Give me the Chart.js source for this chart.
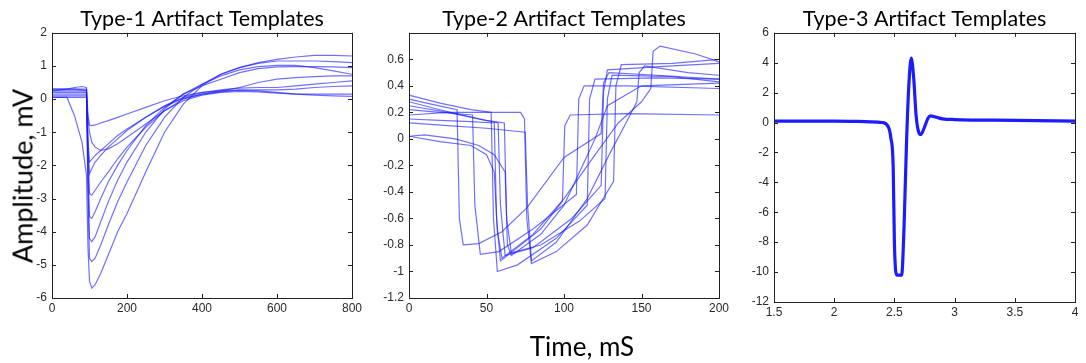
<!DOCTYPE html>
<html>
<head>
<meta charset="utf-8">
<script src="https://cdn.jsdelivr.net/npm/chart.js@4.4.0/dist/chart.umd.min.js"></script>
<style>
    body { margin: 0; background: #fff; width: 1086px; height: 363px; position: relative; overflow: hidden; font-family: Lato, "Open Sans", sans-serif; }
    .panel { position: absolute; top: 0; height: 330px; }
    #ampLabel { position: absolute; left: 22px; top: 176px; transform: translate(-50%, -50%) rotate(-90deg); font-size: 27px; white-space: nowrap; color: #000; }
    #timeLabel { position: absolute; left: 582px; top: 346px; transform: translate(-50%, -50%); font-size: 26px; white-space: nowrap; color: #000; }
</style>
</head>
<body>
<div class="panel" style="left:0;width:380px"><canvas id="type1Chart"></canvas></div>
<div class="panel" style="left:379px;width:370px"><canvas id="type2Chart"></canvas></div>
<div class="panel" style="left:744px;width:342px"><canvas id="type3Chart"></canvas></div>
<div id="ampLabel">Amplitude, mV</div>
<div id="timeLabel">Time, mS</div>
<script>
// Type-1 templates: shared time axis (mS), one amplitude array per template (mV)
const type1Time = [0, 40, 60, 80, 92, 96, 100, 106, 115, 130, 150, 175, 200, 250, 300, 350, 400, 450, 500, 550, 600, 650, 700, 750, 800];
const type1Values = [
    [0.25, 0.3, 0.35, 0.38, 0.35, -0.5, -0.78, -0.8, -0.78, -0.72, -0.65, -0.55, -0.45, -0.25, -0.05, 0.1, 0.2, 0.25, 0.27, 0.25, 0.2, 0.15, 0.12, 0.1, 0.08],
    [0.05, 0.05, 0.05, 0.05, 0.05, -0.6, -1.0, -1.3, -1.45, -1.55, -1.5, -1.35, -1.15, -0.75, -0.35, -0.05, 0.12, 0.2, 0.23, 0.22, 0.18, 0.15, 0.15, 0.15, 0.15],
    [0.3, 0.3, 0.3, 0.28, 0.26, -1.2, -1.9, -1.82, -1.7, -1.55, -1.35, -1.1, -0.9, -0.55, -0.22, 0.02, 0.15, 0.22, 0.27, 0.28, 0.28, 0.3, 0.35, 0.38, 0.4],
    [0.2, 0.2, 0.2, 0.2, 0.2, -1.5, -2.25, -2.1, -1.9, -1.7, -1.45, -1.2, -0.95, -0.55, -0.2, 0.05, 0.2, 0.28, 0.33, 0.35, 0.35, 0.4, 0.45, 0.5, 0.55],
    [0.1, 0.1, 0.1, 0.1, 0.1, -1.5, -2.85, -2.9, -2.75, -2.5, -2.2, -1.8, -1.45, -0.85, -0.35, 0.0, 0.15, 0.25, 0.35, 0.5, 0.6, 0.65, 0.68, 0.7, 0.7],
    [0.3, 0.3, 0.3, 0.3, 0.3, -2.0, -3.55, -3.6, -3.4, -3.0, -2.5, -2.0, -1.55, -0.8, -0.25, 0.15, 0.4, 0.6, 0.8, 0.92, 0.97, 0.98, 0.98, 0.97, 0.95],
    [0.15, 0.15, 0.15, 0.15, 0.15, -2.5, -4.2, -4.3, -4.15, -3.7, -3.1, -2.45, -1.9, -1.0, -0.3, 0.15, 0.45, 0.7, 0.88, 0.98, 1.02, 1.02, 0.95, 0.85, 0.75],
    [0.25, 0.25, 0.25, 0.25, 0.25, -3.0, -4.8, -4.9, -4.8, -4.4, -3.8, -3.1, -2.5, -1.4, -0.55, 0.05, 0.45, 0.75, 0.95, 1.08, 1.15, 1.15, 1.15, 1.13, 1.1],
    [0.05, 0.05, -0.5, -1.3, -2.3, -4.5, -5.5, -5.7, -5.6, -5.25, -4.7, -4.0, -3.45, -2.2, -1.0, -0.15, 0.4, 0.75, 0.95, 1.1, 1.2, 1.27, 1.32, 1.32, 1.3]
];

// Type-2 templates: each template has its own time points (mS) and amplitudes (mV)
const type2Times = [
    [0, 15, 31, 32.5, 35, 45, 60, 76, 100, 124, 125.5, 129, 160, 200],
    [0, 20, 41, 42.5, 46, 58, 80, 108, 109.5, 113, 140, 200],
    [0, 20, 40, 55, 56.5, 59, 70, 85, 99, 100.5, 104, 140, 200],
    [0, 20, 45, 57.5, 59, 62, 80, 105, 124, 125.5, 128, 170, 200],
    [0, 25, 50, 61.5, 63, 66, 85, 110, 126.5, 128, 131, 170, 200],
    [0, 25, 50, 72, 74.5, 76, 79, 95, 115, 132, 133.5, 137, 170, 200],
    [0, 25, 50, 75, 76.5, 79, 95, 115, 130, 140, 147, 148.5, 152, 180, 200],
    [0, 20, 40, 50, 55, 57, 60, 80, 100, 120, 135, 150, 156, 157.5, 162, 185, 200],
    [0, 10, 30, 45, 55, 62, 63.5, 66, 85, 100, 112, 120, 128, 150, 200],
    [0, 20, 40, 53, 54.5, 57, 70, 95, 115, 116.5, 120, 160, 200]
];
const type2Values = [
    [0.3, 0.26, 0.22, -0.6, -0.8, -0.79, -0.7, -0.52, -0.14, 0.04, 0.42, 0.5, 0.48, 0.45],
    [0.22, 0.2, 0.18, -0.5, -0.87, -0.85, -0.68, -0.42, 0.3, 0.4, 0.4, 0.38],
    [0.15, 0.14, 0.13, 0.12, -0.6, -0.92, -0.82, -0.68, -0.47, 0.1, 0.18, 0.19, 0.18],
    [0.28, 0.22, 0.15, 0.12, -0.5, -0.88, -0.82, -0.6, -0.35, 0.35, 0.52, 0.55, 0.57],
    [0.25, 0.2, 0.14, 0.12, -0.6, -0.86, -0.8, -0.62, -0.45, 0.3, 0.48, 0.47, 0.43],
    [0.18, 0.2, 0.2, 0.2, 0.15, -0.6, -0.94, -0.85, -0.65, -0.32, 0.4, 0.56, 0.57, 0.6],
    [0.12, 0.1, 0.08, 0.05, -0.5, -0.92, -0.78, -0.45, -0.1, 0.12, 0.28, 0.5, 0.55, 0.5, 0.48],
    [0.02, -0.02, -0.05, -0.12, -0.25, -0.7, -0.9, -0.72, -0.45, -0.12, 0.12, 0.28, 0.38, 0.66, 0.7, 0.64, 0.58],
    [0.02, 0.03, 0.0, -0.05, -0.12, -0.25, -0.8, -0.88, -0.72, -0.5, -0.2, 0.0, 0.25, 0.4, 0.42],
    [0.33, 0.27, 0.22, 0.2, -0.6, -1.0, -0.95, -0.75, -0.5, 0.3, 0.45, 0.46, 0.45]
];

// Type-3 template (single averaged waveform)
const type3Time = [1.5, 2.0, 2.3, 2.4, 2.45, 2.47, 2.49, 2.5, 2.52, 2.56, 2.58, 2.6, 2.62, 2.64, 2.66, 2.68, 2.7, 2.72, 2.75, 2.78, 2.8, 2.85, 2.9, 3.0, 3.5, 4.0];
const type3Values = [0.1, 0.1, 0.05, 0.0, -0.3, -1.0, -3.0, -8.0, -10.2, -10.2, -7.0, -1.5, 2.5, 4.3, 3.0, 0.5, -0.6, -0.8, -0.3, 0.3, 0.45, 0.35, 0.25, 0.2, 0.15, 0.1];

const titles = ['Type-1 Artifact Templates', 'Type-2 Artifact Templates', 'Type-3 Artifact Templates'];

const tickFont = { family: '"Liberation Sans", Arial, sans-serif', size: 12 };
const tickColor = '#2a2a2a';

// Draws the Matlab-style box with inward tick marks on all four sides
const boxPlugin = {
    id: 'matlabBox',
    afterDraw(chart) {
        const { ctx, chartArea: a, scales } = chart;
        ctx.save();
        ctx.strokeStyle = '#222';
        ctx.lineWidth = 1;
        ctx.strokeRect(Math.round(a.left) + 0.5, Math.round(a.top) + 0.5, Math.round(a.width), Math.round(a.height));
        ctx.beginPath();
        scales.x.ticks.forEach(t => {
            const px = Math.round(scales.x.getPixelForValue(t.value)) + 0.5;
            ctx.moveTo(px, a.bottom); ctx.lineTo(px, a.bottom - 4);
            ctx.moveTo(px, a.top); ctx.lineTo(px, a.top + 4);
        });
        scales.y.ticks.forEach(t => {
            const py = Math.round(scales.y.getPixelForValue(t.value)) + 0.5;
            ctx.moveTo(a.left, py); ctx.lineTo(a.left + 4, py);
            ctx.moveTo(a.right, py); ctx.lineTo(a.right - 4, py);
        });
        ctx.stroke();
        ctx.restore();
    }
};

function toPoints(xs, ys) {
    return xs.map((x, i) => ({ x: x, y: ys[i] }));
}

// Matlab-like tick text: 2 instead of 2.0, 0.6 instead of 0.6000000001
function fmt(v) {
    return String(Math.round(v * 10) / 10);
}

function makePanel(canvasId, title, datasets, cfg) {
    const ctx = document.getElementById(canvasId).getContext('2d');
    return new Chart(ctx, {
        type: 'scatter',
        data: { datasets: datasets },
        plugins: [boxPlugin],
        options: {
            responsive: true,
            maintainAspectRatio: false,
            animation: false,
            layout: { padding: { left: 0, right: cfg.rightPad, top: 0, bottom: 0 } },
            elements: { point: { radius: 0 } },
            plugins: {
                legend: { display: false },
                tooltip: { enabled: false },
                title: {
                    display: true,
                    text: title,
                    fullSize: false,
                    color: '#000',
                    font: { family: 'Lato, "Open Sans", sans-serif', size: 21.5, weight: 'normal', lineHeight: 1.2 },
                    padding: { top: 6, bottom: 1 }
                }
            },
            scales: {
                x: {
                    type: 'linear',
                    min: cfg.xMin, max: cfg.xMax,
                    grid: { display: false, drawTicks: false },
                    border: { display: false },
                    ticks: { stepSize: cfg.xStep, color: tickColor, font: tickFont, padding: 3, maxRotation: 0, autoSkip: false, callback: fmt },
                    afterFit: s => { s.height = cfg.xHeight; }
                },
                y: {
                    min: cfg.yMin, max: cfg.yMax,
                    grid: { display: false, drawTicks: false },
                    border: { display: false },
                    ticks: {
                        stepSize: cfg.yStep, color: tickColor, font: tickFont, padding: 5, autoSkip: false,
                        callback: v => (cfg.hideTop && Math.abs(v - cfg.yMax) < 1e-6) ? '' : fmt(v)
                    },
                    afterFit: s => { s.width = cfg.yWidth; }
                }
            }
        }
    });
}

const thinBlue = 'rgba(25, 25, 255, 0.62)';

makePanel('type1Chart', titles[0],
    type1Values.map(v => ({ data: toPoints(type1Time, v), borderColor: thinBlue, borderWidth: 1.2, showLine: true, fill: false })),
    { xMin: 0, xMax: 800, xStep: 200, yMin: -6, yMax: 2, yStep: 1, yWidth: 52, xHeight: 32, rightPad: 28 });

makePanel('type2Chart', titles[1],
    type2Values.map((v, i) => ({ data: toPoints(type2Times[i], v), borderColor: thinBlue, borderWidth: 1.2, showLine: true, fill: false })),
    { xMin: 0, xMax: 200, xStep: 50, yMin: -1.2, yMax: 0.8, yStep: 0.2, yWidth: 30, xHeight: 32, rightPad: 30, hideTop: true });

makePanel('type3Chart', titles[2],
    [{ data: toPoints(type3Time, type3Values), borderColor: '#1c1cff', borderWidth: 3.2, showLine: true, fill: false, cubicInterpolationMode: 'monotone' }],
    { xMin: 1.5, xMax: 4, xStep: 0.5, yMin: -12, yMax: 6, yStep: 2, yWidth: 30, xHeight: 28, rightPad: 11 });
</script>
</body>
</html>
